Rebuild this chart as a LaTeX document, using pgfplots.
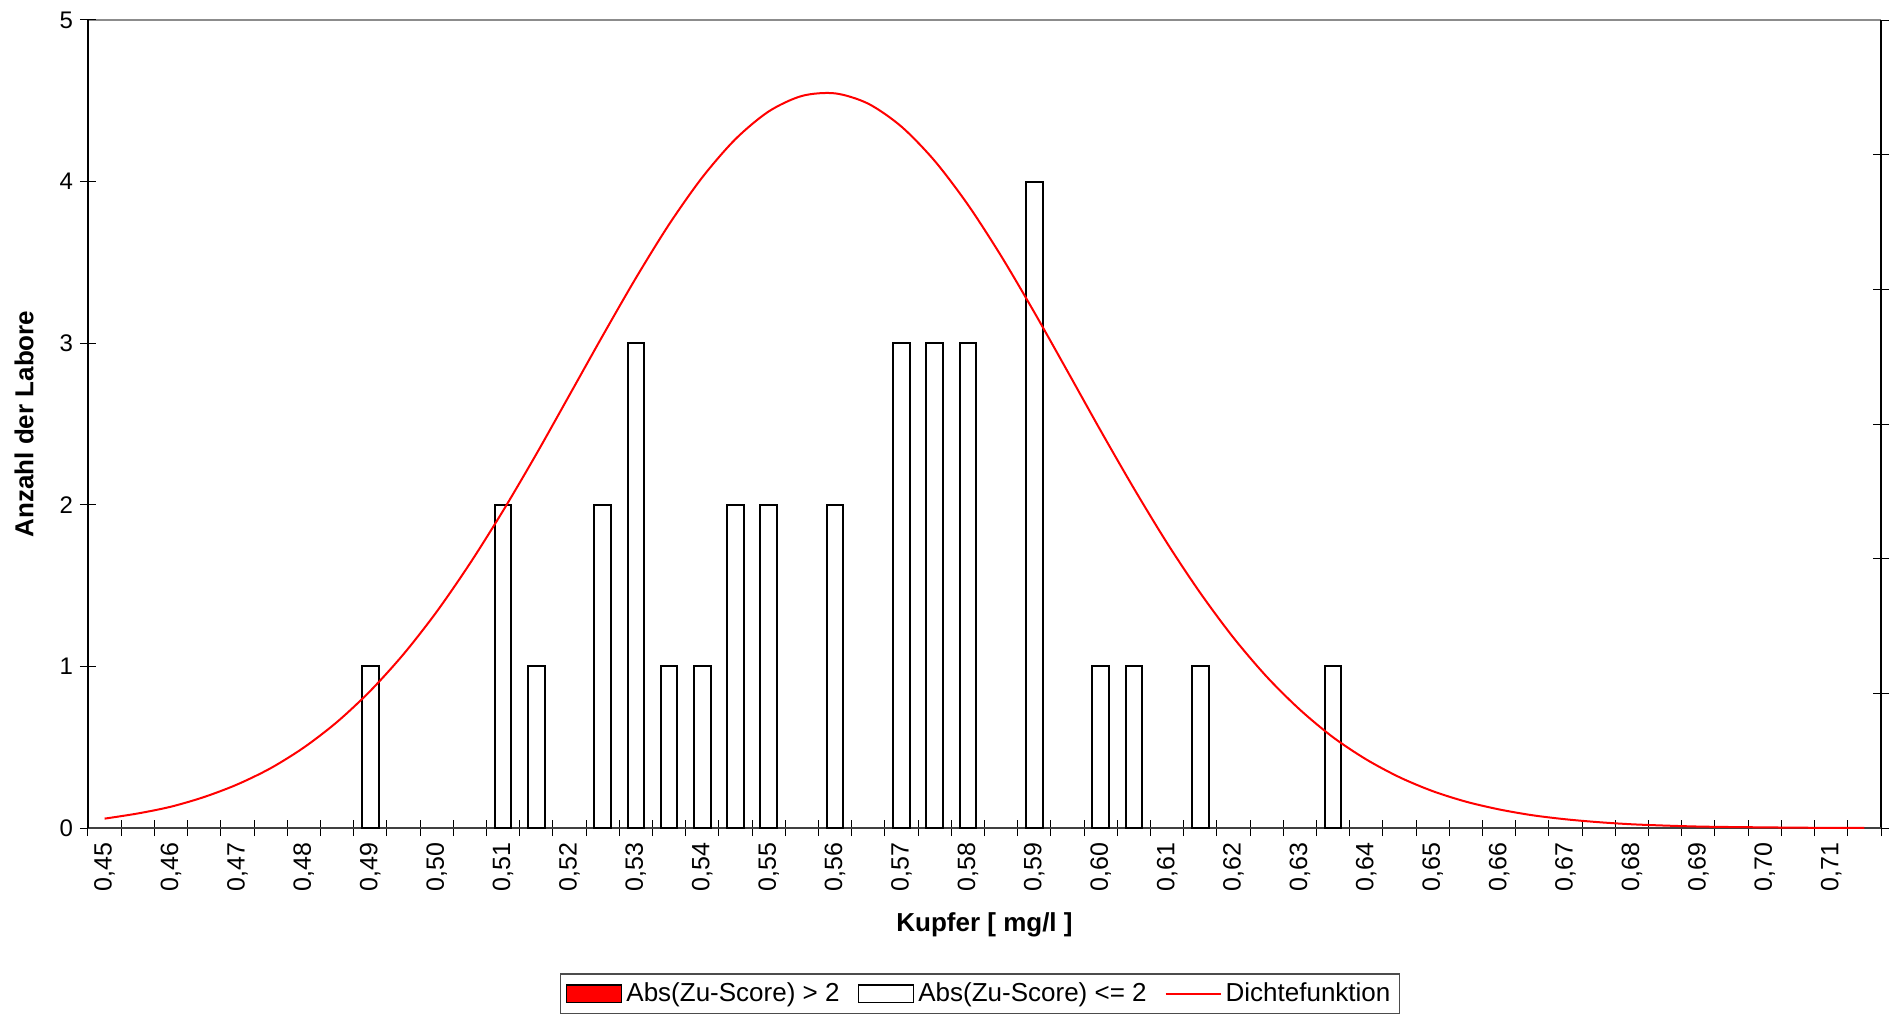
\documentclass[border=0pt]{standalone}
\usepackage{fontspec}
\setmainfont{Liberation Sans}
\usepackage{pgfplots}
\usepackage{pgfplotstable}
\pgfplotsset{compat=1.18}

% Anzahl der Labore je Klasse (Klassenbreite 0,005 mg/l)
\pgfplotstableread{
x      n
0.490  1
0.510  2
0.515  1
0.525  2
0.530  3
0.535  1
0.540  1
0.545  2
0.550  2
0.560  2
0.570  3
0.575  3
0.580  3
0.590  4
0.600  1
0.605  1
0.615  1
0.635  1
}\labore

% Dichtefunktion, abgelesen an den Klassenmitten
\pgfplotstableread{
x      d
0.450  0.058
0.455  0.090
0.460  0.132
0.465  0.192
0.470  0.270
0.475  0.370
0.480  0.498
0.485  0.656
0.490  0.848
0.495  1.075
0.500  1.338
0.505  1.636
0.510  1.963
0.515  2.313
0.520  2.679
0.525  3.046
0.530  3.403
0.535  3.735
0.540  4.026
0.545  4.263
0.550  4.434
0.555  4.530
0.560  4.546
0.565  4.482
0.570  4.340
0.575  4.128
0.580  3.857
0.585  3.540
0.590  3.191
0.595  2.826
0.600  2.458
0.605  2.101
0.610  1.763
0.615  1.454
0.620  1.177
0.625  0.936
0.630  0.732
0.635  0.561
0.640  0.424
0.645  0.314
0.650  0.228
0.655  0.163
0.660  0.115
0.665  0.079
0.670  0.054
0.675  0.036
0.680  0.023
0.685  0.015
0.690  0.009
0.695  0.006
0.700  0.004
0.705  0.002
0.710  0.001
0.715  0.001
}\dichte

\begin{document}
\begin{tikzpicture}
\useasboundingbox (-44pt,-92.5pt) rectangle (903pt,414pt);

% zweite Achse: rechte Linie mit Strichen, graue obere Linie
\begin{axis}[
    at={(0,0)}, anchor=south west,
    scale only axis, width=896.5pt, height=404pt,
    xmin=0, xmax=1, ymin=0, ymax=6,
    axis x line*=top, axis y line*=right,
    xtick=\empty, ytick={0,1,...,6}, yticklabels={},
    tick align=center, major tick length=8pt,
    tick style={black, line width=0.5pt},
    x axis line style={draw=black!45, line width=0.9pt},
    y axis line style={draw=black, line width=0.7pt},
]
\end{axis}

\begin{axis}[
    at={(0,0)}, anchor=south west,
    scale only axis, width=896.5pt, height=404pt,
    xmin=0.4475, xmax=0.7175, ymin=0, ymax=5,
    axis x line*=bottom, axis y line*=left,
    x axis line style={draw=black!75, line width=0.9pt},
    y axis line style={draw=black, line width=0.7pt},
    tick align=center, major tick length=8pt, minor tick length=8pt,
    tick style={black, line width=0.5pt},
    major x tick style={draw=none},
    xtick={0.45,0.46,0.47,0.48,0.49,0.50,0.51,0.52,0.53,0.54,0.55,0.56,0.57,
           0.58,0.59,0.60,0.61,0.62,0.63,0.64,0.65,0.66,0.67,0.68,0.69,0.70,0.71},
    xticklabels={{0,45},{0,46},{0,47},{0,48},{0,49},{0,50},{0,51},{0,52},{0,53},
                 {0,54},{0,55},{0,56},{0,57},{0,58},{0,59},{0,60},{0,61},{0,62},
                 {0,63},{0,64},{0,65},{0,66},{0,67},{0,68},{0,69},{0,70},{0,71}},
    minor xtick={0.4475,0.4525,...,0.718},
    ytick={0,1,...,5},
    /pgf/number format/assume math mode=true,
    xticklabel style={rotate=90, anchor=east, font=\fontsize{12.5}{14}\selectfont},
    yticklabel style={font=\fontsize{12}{14}\selectfont},
    xlabel={\textbf{Kupfer [ mg/l ]}},
    ylabel={\textbf{Anzahl der Labore}},
    xlabel style={at={(axis description cs:0.5,-0.12)}, anchor=center,
                  font=\fontsize{13}{15}\selectfont},
    ylabel style={at={(axis description cs:-0.0357,0.5)}, anchor=center,
                  font=\fontsize{13}{15}\selectfont},
    legend style={at={(0.4975,-0.18)}, anchor=north, legend columns=3,
                  draw=black!70, line width=0.6pt, font=\fontsize{13}{15}\selectfont,
                  inner sep=2.5pt,
                  /tikz/every even column/.append style={column sep=7pt}},
]

\addlegendimage{legend image code/.code={%
    \draw[black, fill=red, line width=0.9pt] (0pt,-4.3pt) rectangle (27.5pt,4.3pt);}}
\addlegendentry{Abs(Zu-Score) > 2}

\addplot[ybar, bar width=0.0025, draw=black, fill=white, line width=1pt,
    legend image code/.code={%
    \draw[black, fill=white, line width=0.9pt] (0pt,-4.3pt) rectangle (27.5pt,4.3pt);}]
    table[x=x, y=n] {\labore};
\addlegendentry{Abs(Zu-Score) <= 2}

\addplot[red, line width=1pt, smooth, mark=none,
    legend image code/.code={%
    \draw[red, line width=1pt] (0pt,0pt) -- (27.5pt,0pt);}]
    table[x=x, y=d] {\dichte};
\addlegendentry{Dichtefunktion}

\end{axis}
\end{tikzpicture}
\end{document}
